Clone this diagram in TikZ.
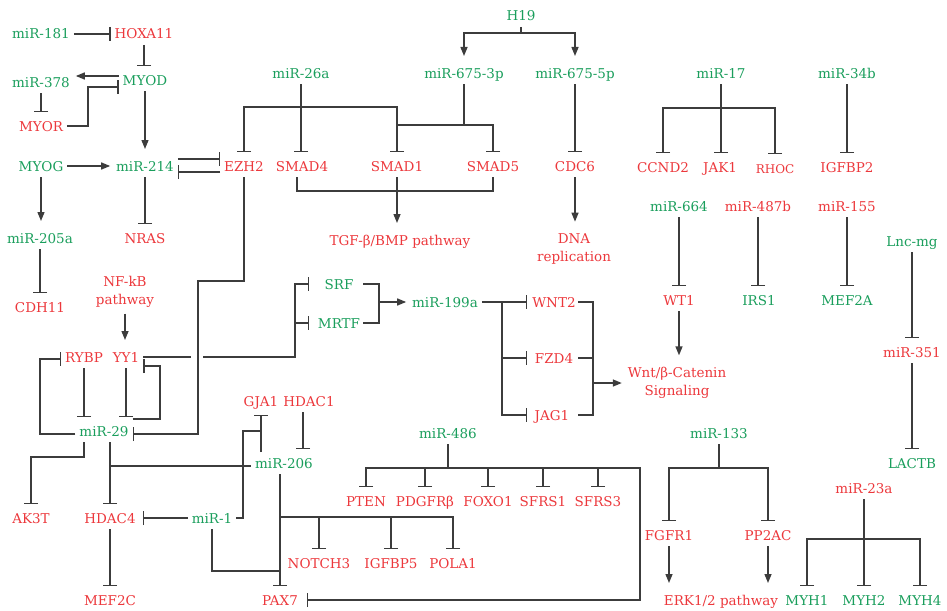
\documentclass[tikz,border=0pt]{standalone}
\usepackage{fontspec}
\setmainfont{DejaVu Serif}
\usetikzlibrary{arrows.meta}
\definecolor{mgreen}{RGB}{26,158,92}
\definecolor{mred}{RGB}{236,56,60}
\definecolor{lc}{RGB}{60,60,60}
\begin{document}
\begin{tikzpicture}[x=1pt,y=-1pt,
  lb/.style={inner xsep=4pt, inner ysep=6pt, outer sep=0pt, text height=10pt, text depth=0pt, font=\fontsize{13.5}{16}\selectfont},
  g/.style={lb,text=mgreen}, r/.style={lb,text=mred},
  ml/.style={inner xsep=4pt, inner ysep=6pt, outer sep=0pt, align=center, text=mred, font=\fontsize{13.5}{18}\selectfont},
  ln/.style={draw=lc, line width=1.4pt},
  act/.style={ln,-{Triangle[length=9pt,width=7pt]},shorten >=2pt},
  actv/.style={ln,-{Triangle[length=9pt,width=7pt]},shorten >=6pt},
  inh/.style={ln,-{Bar[width=14pt]}},
  inhv/.style={ln,-{Bar[width=14pt]},shorten >=3pt},
]
\useasboundingbox (0,0) rectangle (947,610);
% nodes
\node[g] (mir181) at (41,34) {miR-181};
\node[r] (hoxa) at (144,34) {HOXA11};
\node[g] (myod) at (145,80) {MYOD};
\node[g] (mir378) at (41,82) {miR-378};
\node[r] (myor) at (41,126) {MYOR};
\node[g] (myog) at (41,166) {MYOG};
\node[g] (mir214) at (145,166) {miR-214};
\node[r] (ezh2) at (244,166) {EZH2};
\node[r] (smad4) at (302,166) {SMAD4};
\node[r] (smad1) at (397,166) {SMAD1};
\node[r] (smad5) at (493,166) {SMAD5};
\node[r] (cdc6) at (575,166) {CDC6};
\node[g] (mir26a) at (301,73) {miR-26a};
\node[g] (mir6753) at (464,73) {miR-675-3p};
\node[g] (mir6755) at (575,73) {miR-675-5p};
\node[g] (h19) at (521,16) {H19};
\node[r] (tgf) at (400,240) {TGF-β/BMP pathway};
\node[ml] (dna) at (574,249) {DNA\\replication};
\node[g] (mir205a) at (40,238) {miR-205a};
\node[r] (nras) at (145,238) {NRAS};
\node[r] (cdh11) at (40,307) {CDH11};
\node[ml] (nfkb) at (125,292) {NF-kB\\pathway};
\node[r] (rybp) at (84,357) {RYBP};
\node[r] (yy1) at (126,357) {YY1};
\node[g] (mir29) at (104,431) {miR-29};
\node[g] (srf) at (339,284) {SRF};
\node[g] (mrtf) at (339,323) {MRTF};
\node[g] (mir199a) at (445,302) {miR-199a};
\node[r] (wnt2) at (554,302) {WNT2};
\node[r] (fzd4) at (554,358) {FZD4};
\node[r] (jag1) at (552,415) {JAG1};
\node[ml] (wnt) at (677,383) {Wnt/β-Catenin\\Signaling};
\node[r] (wt1) at (679,300) {WT1};
\node[g] (irs1) at (759,300) {IRS1};
\node[g] (mef2a) at (847,300) {MEF2A};
\node[g] (mir664) at (679,206) {miR-664};
\node[r] (mir487b) at (758,206) {miR-487b};
\node[r] (mir155) at (847,206) {miR-155};
\node[r] (ccnd2) at (663,167) {CCND2};
\node[r] (jak1) at (720,167) {JAK1};
\node[r,font=\fontsize{12}{14}\selectfont] (rhoc) at (775,168) {RHOC};
\node[r] (igfbp2) at (847,167) {IGFBP2};
\node[g] (mir17) at (721,73) {miR-17};
\node[g] (mir34b) at (847,73) {miR-34b};
\node[g] (lncmg) at (912,241) {Lnc-mg};
\node[r] (mir351) at (912,352) {miR-351};
\node[g] (lactb) at (912,463) {LACTB};
\node[r] (mir23a) at (864,488) {miR-23a};
\node[g] (myh1) at (807,600) {MYH1};
\node[g] (myh2) at (864,600) {MYH2};
\node[g] (myh4) at (920,600) {MYH4};
\node[g] (mir133) at (719,433) {miR-133};
\node[r] (fgfr1) at (669,535) {FGFR1};
\node[r] (pp2ac) at (768,535) {PP2AC};
\node[r] (erk) at (721,600) {ERK1/2 pathway};
\node[r] (gja1) at (261,401) {GJA1};
\node[r] (hdac1) at (309,401) {HDAC1};
\node[g] (mir206) at (284,463) {miR-206};
\node[g] (mir486) at (448,433) {miR-486};
\node[r] (pten) at (366,501) {PTEN};
\node[r] (pdgfrb) at (425,501) {PDGFRβ};
\node[r] (foxo1) at (488,501) {FOXO1};
\node[r] (sfrs1) at (543,501) {SFRS1};
\node[r] (sfrs3) at (598,501) {SFRS3};
\node[r] (notch3) at (319,563) {NOTCH3};
\node[r] (igfbp5) at (391,563) {IGFBP5};
\node[r] (pola1) at (453,563) {POLA1};
\node[r] (pax7) at (280,600) {PAX7};
\node[r] (ak3t) at (31,518) {AK3T};
\node[r] (hdac4) at (110,518) {HDAC4};
\node[g] (mir1) at (212,518) {miR-1};
\node[r] (mef2c) at (110,600) {MEF2C};
% top-left
\draw[inh] (mir181.east) -- (hoxa.west);
\draw[inhv] (hoxa.south) -- (hoxa.south |- myod.north);
\draw[act] (myod.west |- 0,76) -- (mir378.east |- 0,76);
\draw[inh] (myor.east) -| (88,87) -- (myod.west |- 0,87);
\draw[inhv] (mir378.south) -- (mir378.south |- myor.north);
\draw[actv] (myod.south) -- (myod.south |- mir214.north);
\draw[act] (myog.east) -- (mir214.west);
\draw[inh] (mir214.east |- 0,159) -- (ezh2.west |- 0,159);
\draw[inh] (ezh2.west |- 0,172) -- (mir214.east |- 0,172);
\draw[actv] (myog.south) -- (myog.south |- mir205a.north);
\draw[inhv] (mir214.south) -- (mir214.south |- nras.north);
\draw[inhv] (mir205a.south) -- (mir205a.south |- cdh11.north);
\draw[actv] (nfkb.south) -- (nfkb.south |- yy1.north);
% H19, miR-26a, miR-675
\draw[ln] (h19.south) -- (h19.south |- 0,33);
\draw[actv] (h19.south |- 0,33) -| (mir6753.north);
\draw[actv] (h19.south |- 0,33) -| (mir6755.north);
\draw[inhv] (mir26a.south) -- (mir26a.south |- smad4.north);
\draw[inhv] (mir26a.south |- 0,107) -| (ezh2.north);
\draw[inhv] (mir26a.south |- 0,107) -| (smad1.north);
\draw[ln] (mir6753.south) -- (mir6753.south |- 0,125);
\draw[inhv] (smad1.north |- 0,125) -| (smad5.north);
\draw[inhv] (mir6755.south) -- (mir6755.south |- cdc6.north);
\draw[ln] ([xshift=-5pt]smad4.south) |- (smad5.south |- 0,191) -- (smad5.south);
\draw[actv] (smad1.south) -- (smad1.south |- tgf.north);
\draw[actv] (cdc6.south) -- (cdc6.south |- dna.north);
% EZH2 -> miR-29
\draw[inh] (ezh2.south) -- (ezh2.south |- 0,281) -| (198,434) -- (mir29.east |- 0,434);
% YY1 -> SRF / MRTF
\draw[ln] (yy1.east) -- (191,357);
\draw[inh] (203,357) -| (295,284) -- (srf.west -| 309,0);
\draw[inh] (mrtf.west -| 295,0) -- (mrtf.west -| 309,0);
\draw[ln] (srf.east -| 363,0) -| (mrtf.east -| 379,0) -- (mrtf.east -| 363,0);
\draw[act] (379,302) -- (mir199a.west);
\draw[inh] (mir199a.east) -- (wnt2.west -| 527,0);
\draw[inh] (502,302) |- (fzd4.west -| 527,0);
\draw[inh] (502,302) |- (jag1.west -| 527,0);
\draw[ln] (wnt2.east -| 578,0) -| (593,415) -- (jag1.east -| 578,0);
\draw[ln] (fzd4.east -| 578,0) -- (fzd4.east -| 593,0);
\draw[act] (593,383) -- (wnt.west |- 0,383);
% right column
\draw[actv] (wt1.south) -- (wt1.south |- wnt.north);
\draw[inhv] (mir664.south) -- (mir664.south |- wt1.north);
\draw[inhv] (mir487b.south) -- (mir487b.south |- irs1.north);
\draw[inhv] (mir155.south) -- (mir155.south |- mef2a.north);
\draw[inhv] (mir17.south) -- (mir17.south |- jak1.north);
\draw[inhv] (mir17.south |- 0,108) -| (ccnd2.north);
\draw[inhv] (mir17.south |- 0,108) -| (rhoc.north);
\draw[inhv] (mir34b.south) -- (mir34b.south |- igfbp2.north);
\draw[inhv] (lncmg.south) -- (lncmg.south |- mir351.north);
\draw[inhv] (mir351.south) -- (mir351.south |- lactb.north);
% miR-23a
\draw[inhv] (mir23a.south) -- (mir23a.south |- myh2.north);
\draw[inhv] (mir23a.south |- 0,539) -| (myh1.north);
\draw[inhv] (mir23a.south |- 0,539) -| (myh4.north);
% miR-133
\draw[ln] (mir133.south) -- (mir133.south |- 0,468);
\draw[inhv] (mir133.south |- 0,468) -| (fgfr1.north);
\draw[inhv] (mir133.south |- 0,468) -| (pp2ac.north);
\draw[actv] (fgfr1.south) -- (fgfr1.south |- erk.north);
\draw[actv] (pp2ac.south) -- (pp2ac.south |- erk.north);
% miR-486
\draw[ln] (mir486.south) -- (mir486.south |- 0,468);
\draw[inh] (pten.north |- 0,468) -| (640,600) -- (pax7.east -| 307,0);
\draw[inhv] (mir486.south |- 0,468) -| (pten.north);
\draw[inhv] (mir486.south |- 0,468) -| (pdgfrb.north);
\draw[inhv] (mir486.south |- 0,468) -| (foxo1.north);
\draw[inhv] (mir486.south |- 0,468) -| (sfrs1.north);
\draw[inhv] (mir486.south |- 0,468) -| (sfrs3.north);
% miR-206, miR-1
\draw[inhv] (pax7.north |- mir206.south) -- (pax7.north);
\draw[inhv] (pax7.north |- 0,517) -| (notch3.north);
\draw[inhv] (pax7.north |- 0,517) -| (igfbp5.north);
\draw[inhv] (pax7.north |- 0,517) -| (pola1.north);
\draw[inhv] ([xshift=-6pt]hdac1.south) -- ([xshift=-6pt]hdac1.south |- mir206.north);
\draw[inhv] (gja1.south |- mir206.north) -- (gja1.south);
\draw[ln] (mir1.east) -| (243,431) -- (gja1.south |- 0,431);
\draw[inh] (mir1.west) -- (hdac4.east -| 143,0);
\draw[ln] (mir1.south) |- (pax7.north |- 0,571);
% miR-29
\draw[inhv] (rybp.south) -- (rybp.south |- mir29.north);
\draw[inhv] (yy1.south) -- (yy1.south |- mir29.north);
\draw[inh] (mir29.east |- 0,419) -| (160,366) -- (yy1.east |- 0,366);
\draw[inh] (mir29.west |- 0,434) -| (40,359) -- (rybp.west |- 0,359);
\draw[inhv] (rybp.south |- mir29.south) |- (ak3t.north |- 0,457) -- (ak3t.north);
\draw[inhv] (hdac4.north |- mir29.south) -- (hdac4.north);
\draw[ln] (hdac4.north |- 0,466) -- (mir206.west |- 0,466);
\draw[inhv] (hdac4.south) -- (mef2c.north);
\end{tikzpicture}
\end{document}
